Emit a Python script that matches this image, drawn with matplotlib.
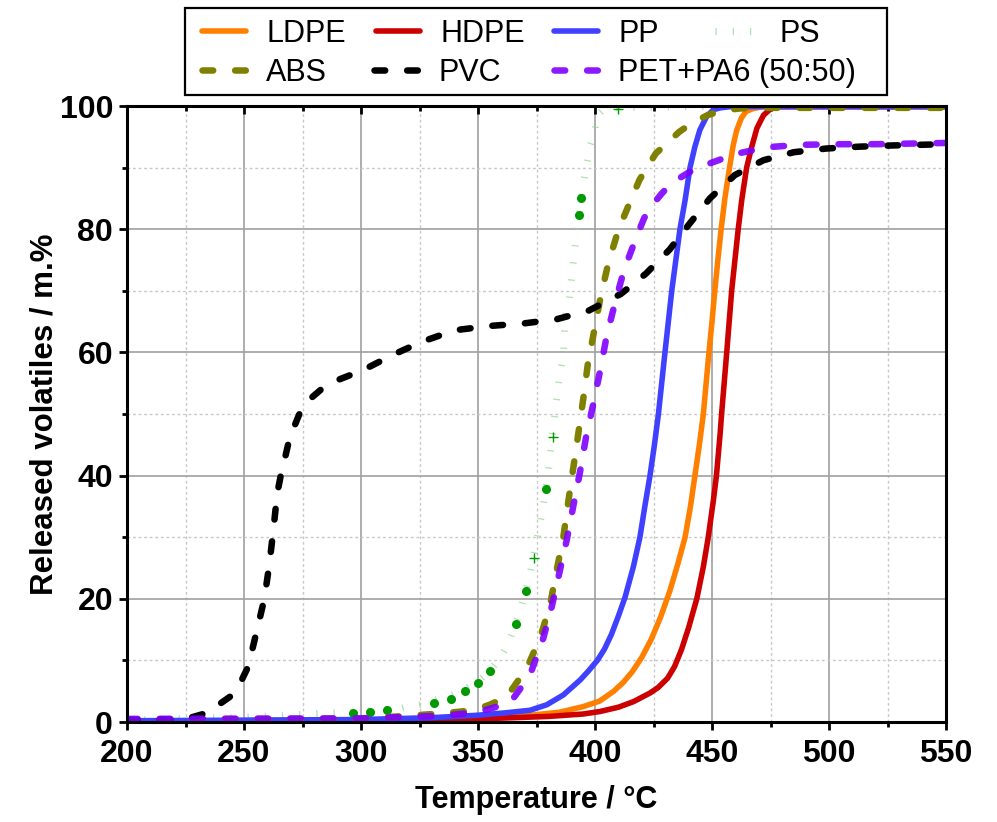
import numpy as np
import matplotlib
matplotlib.use("Agg")
import matplotlib.pyplot as plt
from matplotlib.patches import Rectangle
from matplotlib.ticker import MultipleLocator

plt.rcParams['font.family'] = ['Liberation Sans', 'DejaVu Sans']
plt.rcParams['lines.scale_dashes'] = False

# curves: temperature (C) / released volatiles (m.%)
ldpe_T = [200, 300, 340, 370, 385, 395, 402, 408, 412, 416, 420, 424, 428, 432, 435.5, 438.5, 440.8, 442.7, 444.6, 446.3,
          447.5, 448.7, 450, 451.2, 452.5, 453.9, 455.5, 457.5, 459, 460.5, 462.5, 464.5, 467.6, 472, 550]
ldpe_y = [0.1, 0.3, 0.5, 1.0, 1.6, 2.5, 3.4, 5.0, 6.4, 8.2, 10.5, 13.4, 17.0, 21.3, 25.8, 30, 35, 40, 45, 50,
          55, 60, 65, 70, 75, 80, 85, 90, 93.5, 96, 98, 99.1, 99.6, 99.9, 99.9]

hdpe_T = [200, 300, 350, 380, 395, 402.1, 410, 416.4, 423.5, 427, 431, 434, 437, 440, 443.5, 446.3, 448.4, 450.6, 451.9,
          453.5, 454.1, 456.3, 458.4, 461.2, 462.7, 464.8, 467, 469.2, 472, 474.9, 478, 550]
hdpe_y = [0.1, 0.3, 0.5, 0.9, 1.3, 1.7, 2.4, 3.3, 4.7, 5.6, 7.1, 9.0, 11.8, 15.3, 20, 25.2, 30, 36, 40,
          46.9, 50, 60, 70, 80, 84.7, 90, 93.4, 96.4, 98.5, 99.5, 99.9, 99.9]

pp_T = [200, 300, 330, 350, 362, 372.2, 379.4, 386.5, 393.6, 397, 401, 404, 407, 410, 412.8, 416.4, 419.2, 421.3, 423.5,
        425.4, 427.1, 429.9, 432.8, 436.3, 438.5, 440.6, 442.7, 444.8, 447.7, 450.6, 453.5, 458, 550]
pp_y = [0.2, 0.4, 0.7, 1.1, 1.5, 1.9, 2.8, 4.4, 6.8, 8.2, 10.0, 11.8, 14.2, 17.2, 20.2, 25.2, 30, 35, 40,
        45, 50, 60, 70, 80, 84.7, 90, 93.4, 96.1, 98.3, 99.4, 99.7, 99.9, 99.9]

ps_T = [200, 250, 268, 282, 296, 317, 325, 340, 350, 356, 359.7, 363.2, 368.4, 372.2, 375.1, 377.9, 380, 382.5, 384.3,
        386.5, 387.2, 389, 390.5, 392.2, 395.3, 396.7, 397.9, 400, 400.7, 404, 410, 450, 550]
ps_y = [0.3, 0.8, 1.1, 1.4, 1.6, 2.2, 2.8, 4.5, 6.5, 8.8, 10.5, 13, 18.5, 23.9, 29.4, 35.1, 40.5, 48.9, 54.5,
        60.1, 65.6, 68.4, 74, 79.6, 88, 90.8, 93.4, 96.1, 98.4, 99.6, 99.8, 99.9, 99.9]
ps_dot_T = [296.5, 303.8, 311, 331.3, 338.5, 344.4, 349.9, 355.1, 366.1, 370.4, 378.9, 393.0, 394.1]
ps_dot_y = [1.5, 1.7, 1.95, 3.1, 3.8, 5.0, 6.3, 8.2, 15.9, 21.3, 37.9, 82.3, 85.1]
ps_plus_T = [373.9, 382.2, 409.7]
ps_plus_y = [26.6, 46.2, 99.5]

abs_T = [200, 300, 335, 348, 355, 362.3, 370.8, 376.5, 380.8, 383.6, 386.5, 388.6, 390.7, 392.9, 395, 396.9, 399.7,
         402.4, 405.7, 410, 415.5, 419, 422.5, 426, 430.6, 436, 441.3, 448, 454.8, 462, 470.5, 550]
abs_y = [0.4, 0.5, 1.4, 1.9, 2.8, 4.1, 8.7, 13.6, 19, 24.6, 30.1, 35.8, 41.2, 46.9, 52.5, 58, 63.6,
         69, 74.5, 79.9, 84.9, 88, 90.2, 92.3, 93.9, 95.8, 97.2, 98.5, 99.3, 99.6, 99.7, 99.7]

pvc_T = [200, 220, 228, 232.6, 238, 244, 248, 251.8, 255.4, 258.7, 260.8, 262.5, 264.2, 265.7, 267.3, 269, 271.4, 274,
         277.8, 283, 288.6, 300.7, 313.6, 325.8, 340.1, 355.2, 369.5, 383.8, 397.4, 411.1, 421.8, 431.9, 440.2, 449.1,
         459.8, 472, 485, 499, 513, 527.5, 550]
pvc_y = [0.3, 0.4, 0.8, 1.3, 2.5, 4.1, 6, 9, 14.7, 20, 25.5, 31, 37.1, 40, 42.5, 45.3, 47.9, 50.3,
         52.3, 54, 55.3, 57.1, 59.6, 61.7, 63.6, 64.3, 64.7, 65.4, 66.8, 69.5, 72.8, 76.7, 80.8, 85,
         88.8, 91.2, 92.5, 93.1, 93.4, 93.6, 93.8]

pet_T = [200, 300, 335, 350, 363.7, 372.2, 377.9, 381.5, 384.7, 387.9, 390.7, 393.6, 396.2, 399.3, 402.4, 405, 408.6,
         412.5, 418, 421, 424.4, 429, 434, 440, 447, 460, 473.4, 487.6, 505, 520, 535, 550]
pet_y = [0.5, 0.6, 1.0, 1.6, 3.1, 7.6, 13.6, 18.7, 24.1, 29.5, 35, 40.6, 46.3, 51.7, 57.4, 62.7, 68.1,
         73.5, 79, 81.8, 83.9, 86, 87.8, 89.2, 90.4, 92.2, 93.3, 93.7, 93.8, 93.8, 93.9, 94.0]

W, H = 997, 822
fig = plt.figure(figsize=(W / 100, H / 100), dpi=100)
ax = fig.add_axes([127 / W, 1 - 722 / H, (946 - 127) / W, (722 - 106) / H])

solid = dict(lw=4.0, solid_capstyle='round', solid_joinstyle='round')
dash = dict(lw=4.7, dashes=(7.7, 15.8), dash_capstyle='round')

l_ps, = ax.plot(ps_T, ps_y, color='#8fd48f', alpha=0.7, lw=5, dashes=(0.9, 11.5), dash_capstyle='butt', zorder=2)
ax.plot(ps_dot_T, ps_dot_y, 'o', color='#009900', ms=5.5, zorder=2)
ax.plot(ps_plus_T, ps_plus_y, '+', color='#009900', ms=7, mew=1, zorder=2)
l_ldpe, = ax.plot(ldpe_T, ldpe_y, color='#ff8000', zorder=3, **solid)
l_hdpe, = ax.plot(hdpe_T, hdpe_y, color='#cc0000', zorder=3, **solid)
l_pp, = ax.plot(pp_T, pp_y, color='#4040ff', zorder=3, **solid)
l_abs, = ax.plot(abs_T, abs_y, color='#808000', zorder=4, **dash)
l_pvc, = ax.plot(pvc_T, pvc_y, color='#000000', zorder=4, **dash)
l_pet, = ax.plot(pet_T, pet_y, color='#8000ff', alpha=0.9, zorder=5, **dash)

ax.set_xlim(200, 550)
ax.set_ylim(0, 100)
ax.xaxis.set_major_locator(MultipleLocator(50))
ax.xaxis.set_minor_locator(MultipleLocator(25))
ax.yaxis.set_major_locator(MultipleLocator(20))
ax.yaxis.set_minor_locator(MultipleLocator(10))
ax.grid(which='major', color='#a0a0a0', lw=1.2, ls='-')
ax.grid(which='minor', color='#c8c8c8', lw=1.0, ls=(0, (2, 2)))
ax.set_axisbelow(True)

for s in ax.spines.values():
    s.set_linewidth(2.2)
    s.set_zorder(6)
ax.tick_params(which='both', direction='out', width=2, labelsize=23, top=True, right=False)
ax.tick_params(which='major', length=6, pad=4)
ax.tick_params(which='minor', length=3.5)
ax.tick_params(axis='x', which='major', pad=6)
for lab in ax.get_xticklabels() + ax.get_yticklabels():
    lab.set_fontweight('bold')
ax.set_xlabel('Temperature / °C', fontsize=22, fontweight='bold', labelpad=12)
ax.set_ylabel('Released volatiles / m.%', fontsize=22.5, fontweight='bold', labelpad=0)

# top ticks point inward like the original
for t in ax.xaxis.get_major_ticks() + ax.xaxis.get_minor_ticks():
    t.tick2line.set_marker(3)

# legend: box with entries on a fixed grid
fig.add_artist(Rectangle((185 / W, 1 - 95 / H), (887 - 185) / W, (95 - 8) / H,
                         transform=fig.transFigure, facecolor='white', edgecolor='black', lw=1.6, zorder=1))
entries = [(l_ldpe, 'LDPE', 202, 34), (l_hdpe, 'HDPE', 376, 34), (l_pp, 'PP', 554, 34), (l_ps, 'PS', 715, 34),
           (l_abs, 'ABS', 202, 73), (l_pvc, 'PVC', 374, 73), (l_pet, 'PET+PA6 (50:50)', 554, 73)]
for h, lab, x, y in entries:
    fig.legend(handles=[h], labels=[lab], loc='center left', bbox_to_anchor=(x / W, 1 - y / H),
               frameon=False, borderpad=0, borderaxespad=0, handlelength=1.45, handletextpad=0.65,
               fontsize=22)

fig.savefig('out.png', dpi=100)
